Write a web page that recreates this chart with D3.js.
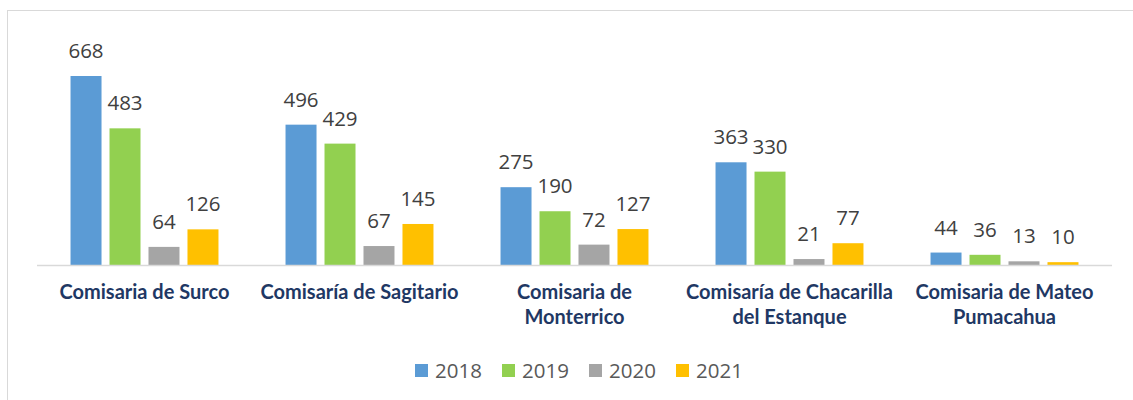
<!DOCTYPE html>
<html>
<head>
<meta charset="utf-8">
<script src="https://cdn.jsdelivr.net/npm/d3@7"></script>
<style>
  body { margin: 0; background: #fff; }
  svg { display: block; font-family: Lato, "Open Sans", sans-serif; }
</style>
</head>
<body>
<svg id="chart" width="1133" height="400"></svg>
<script>
// data
var categories = ["Comisaria de Surco", "Comisaría de Sagitario", "Comisaria de Monterrico",
                  "Comisaría de Chacarilla del Estanque", "Comisaria de Mateo Pumacahua"];
var years = ["2018", "2019", "2020", "2021"];
var values2018 = [668, 496, 275, 363, 44];
var values2019 = [483, 429, 190, 330, 36];
var values2020 = [64, 67, 72, 21, 13];
var values2021 = [126, 145, 127, 77, 10];
var colors = ["#5B9BD5", "#92D050", "#A5A5A5", "#FFC000"];

var series = [values2018, values2019, values2020, values2021];

var svg = d3.select("#chart");

// outer frame
svg.append("rect")
    .attr("x", 7.5).attr("y", 10.5)
    .attr("width", 1140).attr("height", 400)
    .attr("fill", "none")
    .attr("stroke", "#D9D9D9");

var baseY = 265;
var x0 = d3.scaleBand().domain(categories).range([37, 1112]);
var x1 = d3.scaleBand().domain(years).range([0, x0.bandwidth()])
    .paddingInner(0.205).paddingOuter(0.86);
var y = d3.scaleLinear().domain([0, 668]).range([baseY, 76]);

var groups = svg.append("g").selectAll("g")
    .data(categories)
    .enter().append("g")
    .attr("transform", function(d) { return "translate(" + x0(d) + ",0)"; });

groups.selectAll("rect")
    .data(function(d, ci) { return years.map(function(yr, si) { return {year: yr, value: series[si][ci], i: si}; }); })
    .enter().append("rect")
    .attr("x", function(d) { return x1(d.year); })
    .attr("y", function(d) { return y(d.value); })
    .attr("width", x1.bandwidth())
    .attr("height", function(d) { return baseY - y(d.value); })
    .attr("fill", function(d) { return colors[d.i]; });

groups.selectAll("text.val")
    .data(function(d, ci) { return years.map(function(yr, si) { return {year: yr, value: series[si][ci]}; }); })
    .enter().append("text")
    .attr("class", "val")
    .attr("x", function(d) { return x1(d.year) + x1.bandwidth() / 2; })
    .attr("y", function(d) { return y(d.value) - 18; })
    .attr("text-anchor", "middle")
    .attr("fill", "#404040")
    .style("font-family", "'Open Sans', sans-serif")
    .style("font-size", "20.5px")
    .text(function(d) { return d.value; });

// axis line
svg.append("line")
    .attr("x1", 37).attr("x2", 1112)
    .attr("y1", baseY + 0.5).attr("y2", baseY + 0.5)
    .attr("stroke", "#D9D9D9")
    .attr("stroke-width", 1.5);

// category labels, wrapped
var catText = svg.append("g").selectAll("text")
    .data(categories)
    .enter().append("text")
    .attr("x", function(d) { return x0(d) + x0.bandwidth() / 2; })
    .attr("y", 299)
    .attr("text-anchor", "middle")
    .attr("fill", "#1F3864")
    .style("font-weight", "bold")
    .style("font-size", "20px");

catText.each(function(d) {
    var el = d3.select(this);
    var words = d.split(" ");
    var lines = [];
    var line = [];
    var probe = el.append("tspan");
    words.forEach(function(w) {
        line.push(w);
        probe.text(line.join(" "));
        if (probe.node().getComputedTextLength() > 211 && line.length > 1) {
            line.pop();
            lines.push(line.join(" "));
            line = [w];
        }
    });
    lines.push(line.join(" "));
    probe.remove();
    lines.forEach(function(l, i) {
        el.append("tspan")
            .attr("x", el.attr("x"))
            .attr("dy", i === 0 ? 0 : 24.5)
            .text(l);
    });
});

// legend
var legend = svg.append("g").selectAll("g")
    .data(years)
    .enter().append("g")
    .attr("transform", function(d, i) { return "translate(" + (415 + i * 87) + ",364)"; });

legend.append("rect")
    .attr("width", 13).attr("height", 13)
    .attr("fill", function(d, i) { return colors[i]; });

legend.append("text")
    .attr("x", 20).attr("y", 14)
    .attr("fill", "#595959")
    .style("font-family", "'Open Sans', sans-serif")
    .style("font-size", "20.5px")
    .text(function(d) { return d; });
</script>
</body>
</html>
